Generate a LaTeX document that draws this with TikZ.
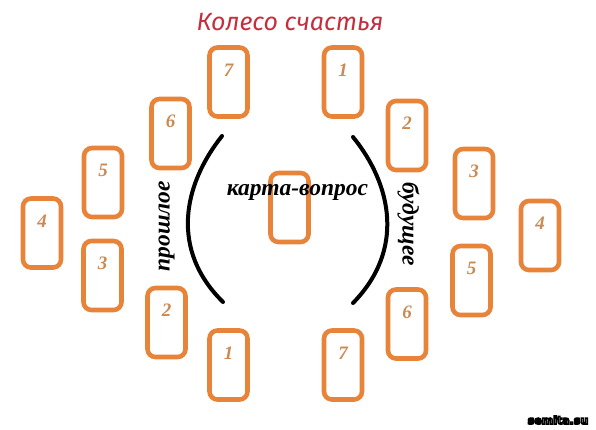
\documentclass[tikz,border=0pt]{standalone}
\usepackage{fontspec}
\setmainfont{Liberation Serif}
\newfontfamily\titlefont{Fira Sans}
\newfontfamily\markfont{DejaVu Sans}
\definecolor{cardorange}{HTML}{E8843A}
\definecolor{numbrown}{HTML}{C98A55}
\definecolor{titlered}{HTML}{C42F3E}
% white letters with a black outline
\newcommand{\outlined}[1]{\textcolor{white}{\special{pdf:literal direct 2 Tr 1.4 w 0 G}#1\special{pdf:literal direct 0 Tr}}}

\begin{document}
\begin{tikzpicture}[x=1pt, y=-1pt,
    card/.style={rectangle, draw=cardorange, line width=4.6pt, rounded corners=8pt,
        minimum width=38pt, minimum height=69pt, inner sep=0pt, label={[num]north:#1}},
    num/.style={anchor=center, yshift=-25pt, text=numbrown, font=\fontsize{19}{19}\selectfont\bfseries\itshape},
    side/.style={font=\fontsize{23.5}{23.5}\selectfont\bfseries\itshape},
    arc/.style={line width=4pt, line cap=round}]
        \useasboundingbox (0,0) rectangle (596,429);

        %title
        \node[text=titlered, font=\titlefont\fontsize{25}{25}\selectfont\itshape] (title) at (290,22) {Колесо счастья};

        %past
        \node[card=7] (p7) at (228.5,82) {};
        \node[card=6] (p6) at (170.5,133.5) {};
        \node[card=5] (p5) at (103,182.5) {};
        \node[card=4] (p4) at (42,233) {};
        \node[card=3] (p3) at (102.5,275.5) {};
        \node[card=2] (p2) at (166.5,322.5) {};
        \node[card=1] (p1) at (228.5,365) {};

        %future
        \node[card=1] (f1) at (343,82) {};
        \node[card=2] (f2) at (407,135.5) {};
        \node[card=3] (f3) at (474,183.5) {};
        \node[card=4] (f4) at (540,235.5) {};
        \node[card=5] (f5) at (471.5,280.5) {};
        \node[card=6] (f6) at (407,324) {};
        \node[card=7] (f7) at (343,365) {};

        %question
        \node[card=] (q) at (289.5,207.5) {};
        \node[side] (qtext) at (297.5,192) {карта-вопрос};

        %brackets
        \coordinate (la) at (222,136);
        \coordinate (lb) at (223,302);
        \coordinate (ra) at (353,137);
        \coordinate (rb) at (353,303);
        \draw[arc] (la) .. controls (183,185) and (170,250) .. (lb);
        \draw[arc] (ra) .. controls (392,185) and (405,250) .. (rb);

        \node[side, rotate=90] (past) at (166.5,226) {прошлое};
        \node[side, rotate=-90] (future) at (408.5,224) {будущее};

        %watermark
        \node[font=\markfont\fontsize{11}{11}\selectfont\bfseries] (mark) at (558,420) {\outlined{semita.su}};
    \end{tikzpicture}
\end{document}
